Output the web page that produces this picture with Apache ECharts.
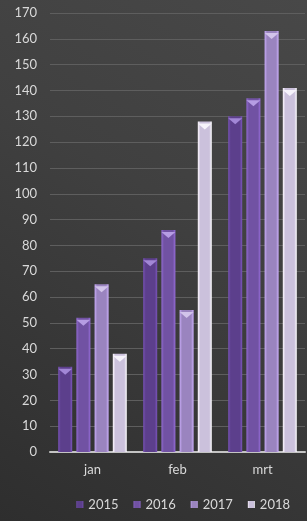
<!DOCTYPE html>
<html>
<head>
<meta charset="utf-8">
<script src="https://cdn.jsdelivr.net/npm/echarts@6/dist/echarts.min.js"></script>
<style>
html,body{margin:0;padding:0;}
#main{width:307px;height:521px;}
</style>
</head>
<body>
<div id="main"></div>
<script>
var months = ['jan', 'feb', 'mrt'];
var years = ['2015', '2016', '2017', '2018'];
var v2015 = [33, 75, 130];
var v2016 = [52, 86, 137];
var v2017 = [65, 55, 163];
var v2018 = [38, 128, 141];
var values = [v2015, v2016, v2017, v2018];

var colors = ['#5c3f8c', '#7152a3', '#9a84bf', '#cbc1dc'];
var tops = ['#a287d6', '#b69de3', '#d2c4ea', '#f6f3fb'];

function shade(c) {
    // bevel-like horizontal gradient
    return new echarts.graphic.LinearGradient(0, 0, 1, 0, [
        {offset: 0, color: echarts.color.lift(c, -0.3)},
        {offset: 0.18, color: c},
        {offset: 0.82, color: c},
        {offset: 1, color: echarts.color.lift(c, -0.35)}
    ]);
}

var myChart = echarts.init(document.getElementById('main'));
var series = [];
years.forEach(function (y, i) {
    series.push({
        name: y,
        type: 'bar',
        data: values[i],
        barWidth: 14,
        barGap: '30%',
        itemStyle: {color: shade(colors[i])},
        emphasis: {disabled: true}
    });
});
years.forEach(function (y, i) {
    series.push({
        name: y,
        type: 'pictorialBar',
        data: values[i],
        symbol: 'triangle',
        symbolRotate: 180,
        symbolSize: [14, 6],
        symbolPosition: 'end',
        symbolOffset: [0, 2],
        barWidth: 14,
        barGap: '30%',
        z: 5,
        itemStyle: {color: tops[i]},
        emphasis: {disabled: true}
    });
});

option = {
    backgroundColor: new echarts.graphic.LinearGradient(0, 1, 1, 0, [
        {offset: 0, color: '#2e2e2e'},
        {offset: 0.6, color: '#404040'},
        {offset: 1, color: '#484848'}
    ]),
    textStyle: {fontFamily: 'Lato'},
    animation: false,
    grid: {left: 50, right: 2, top: 13, bottom: 69},
    legend: {
        data: years,
        right: 12,
        bottom: 5,
        itemWidth: 7,
        itemHeight: 7,
        itemGap: 15,
        icon: 'rect',
        textStyle: {color: '#d9d9d9', fontSize: 13, fontFamily: 'Lato'}
    },
    xAxis: {
        type: 'category',
        data: months,
        axisLine: {lineStyle: {color: '#c4c4c4', width: 2}},
        axisTick: {show: false},
        axisLabel: {color: '#d9d9d9', fontSize: 13, margin: 11}
    },
    yAxis: {
        type: 'value',
        min: 0,
        max: 170,
        interval: 10,
        axisLine: {show: false},
        axisTick: {show: false},
        axisLabel: {color: '#d9d9d9', fontSize: 13, margin: 13},
        splitLine: {lineStyle: {color: '#5e5e5e', width: 1}}
    },
    series: series
};
myChart.setOption(option);
</script>
</body>
</html>
